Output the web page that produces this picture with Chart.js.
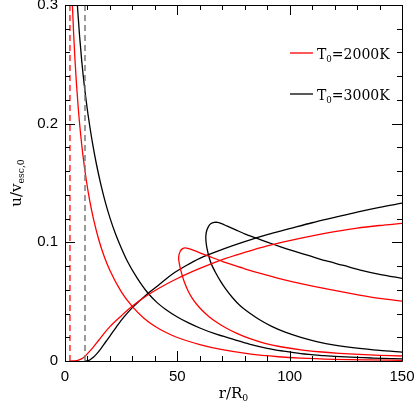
<!DOCTYPE html>
<html>
<head>
<meta charset="utf-8">
<script src="https://cdn.jsdelivr.net/npm/chart.js@4.4.0/dist/chart.umd.min.js"></script>
<style>
  html, body { margin: 0; padding: 0; background: #fff; }
  #wrap { width: 415px; height: 407px; }
</style>
</head>
<body>
<div id="wrap"><canvas id="chart" width="415" height="407"></canvas></div>
<script>
// axis ticks
const xTicks = [0, 50, 100, 150]
const yTicks = [0, 0.1, 0.2, 0.3]

// sonic points (dashed verticals)
const redDashR = [2.2, 2.2]
const redDashU = [0, 0.3]
const blackDashR = [8.9, 8.9]
const blackDashU = [0, 0.3]

// T0=2000K, accelerating branch
const redRiseR = [2.2, 4, 6, 8, 10, 12.5, 15, 17.5, 20, 25, 30, 36, 42, 50, 60, 70, 80, 90, 100, 110, 120, 130, 140, 150]
const redRiseU = [0, 0.0001, 0.0007, 0.0025, 0.0062, 0.0115, 0.0175, 0.0235, 0.029, 0.038, 0.0463, 0.0545, 0.0615, 0.0695, 0.078, 0.0855, 0.0915, 0.097, 0.1015, 0.1055, 0.109, 0.112, 0.1142, 0.116]

// T0=2000K, decelerating branch
const redFallR = [3.3, 3.8, 4.4, 5.1, 5.9, 6.8, 8, 9.5, 11, 12.8, 15, 17.5, 20, 25, 30, 35, 40, 45, 50, 60, 70, 82, 95, 105, 120, 135, 150]
const redFallU = [0.3, 0.2775, 0.2553, 0.2336, 0.213, 0.194, 0.1731, 0.1521, 0.1352, 0.1187, 0.1024, 0.0878, 0.0763, 0.0585, 0.0458, 0.0363, 0.0293, 0.024, 0.0198, 0.0138, 0.0095, 0.006, 0.0036, 0.0024, 0.0014, 0.0009, 0.0006]

// T0=2000K, looped solution
const redLoopR = [150, 140, 131, 122, 113, 105, 96, 89, 82, 76, 71.5, 67.5, 64, 61, 58.6, 56.6, 54.8, 53.2, 52, 51.1, 50.6, 50.7, 51.3, 52.2, 53.5, 55, 57, 60, 63, 66, 70, 75, 80, 87, 95, 105, 117, 131, 140, 150]
const redLoopU = [0.0042, 0.0048, 0.0056, 0.0065, 0.0078, 0.0094, 0.012, 0.0149, 0.019, 0.0237, 0.028, 0.0326, 0.0375, 0.0427, 0.0478, 0.053, 0.059, 0.0661, 0.0732, 0.08, 0.0855, 0.089, 0.0925, 0.0945, 0.0953, 0.0948, 0.0935, 0.0912, 0.089, 0.0868, 0.084, 0.0808, 0.0777, 0.0738, 0.0697, 0.0652, 0.0605, 0.0556, 0.0528, 0.0505]

// T0=3000K, accelerating branch
const blackRiseR = [8.9, 10, 11, 12.5, 14, 16, 18, 20, 23, 26, 30, 36, 42, 48, 54, 60, 70, 80, 90, 100, 110, 120, 130, 140, 150]
const blackRiseU = [0, 0.0002, 0.0008, 0.003, 0.0058, 0.0105, 0.0158, 0.021, 0.029, 0.0365, 0.045, 0.0555, 0.0645, 0.0735, 0.0805, 0.0865, 0.094, 0.1005, 0.1065, 0.1115, 0.1165, 0.121, 0.1255, 0.1295, 0.133]

// T0=3000K, decelerating branch
const blackFallR = [5.5, 6.5, 7.5, 8.5, 10, 11.1, 12.5, 14, 16, 18, 20, 22.5, 25, 28, 32, 36.8, 41, 45, 50, 55, 60, 67, 75, 82, 90, 97, 105, 115, 125, 137, 150]
const blackFallU = [0.3, 0.2737, 0.2519, 0.2338, 0.2111, 0.197, 0.1808, 0.1658, 0.1484, 0.1334, 0.1206, 0.107, 0.0955, 0.0832, 0.0703, 0.0575, 0.0492, 0.0432, 0.0371, 0.0321, 0.0278, 0.0228, 0.0182, 0.0142, 0.0107, 0.0084, 0.0062, 0.0046, 0.0034, 0.0025, 0.0018]

// T0=3000K, looped solution
const blackLoopR = [150, 140, 130, 120, 112, 105, 98, 92, 87, 82.3, 78, 74.5, 71.5, 69, 67, 65.3, 64.2, 63.3, 62.8, 62.7, 63.1, 63.9, 65, 66.4, 68, 70, 72, 76, 80, 85, 90, 96, 102, 109, 116, 124, 131, 140, 150]
const blackLoopU = [0.0075, 0.0089, 0.0108, 0.0134, 0.0164, 0.0199, 0.0243, 0.0292, 0.0343, 0.0402, 0.0465, 0.0535, 0.0607, 0.0679, 0.0746, 0.081, 0.087, 0.094, 0.1, 0.1055, 0.11, 0.1135, 0.1158, 0.1168, 0.1168, 0.1155, 0.1138, 0.1105, 0.1072, 0.1037, 0.1002, 0.0962, 0.0925, 0.0885, 0.0845, 0.0805, 0.0768, 0.073, 0.0697]

const RED = '#ff0000'
const BLACK = '#000000'
const SERIF = '"DejaVu Serif", serif'

function points(rs, us) {
  return rs.map((r, i) => ({ x: r, y: us[i] }))
}

// kind: 'mono' for curves single-valued in r, 'loop' for the looped ones, 'dash' for the verticals
function curve(rs, us, color, kind) {
  const ds = {
    data: points(rs, us),
    showLine: true,
    borderColor: color,
    borderWidth: 1.3,
    pointRadius: 0,
    fill: false
  }
  if (kind === 'dash') {
    ds.borderDash = [6, 4]
    ds.borderWidth = 1.5
  } else if (kind === 'mono') {
    ds.cubicInterpolationMode = 'monotone'
  } else {
    ds.tension = 0.25
  }
  return ds
}

// draws text pieces with subscripts, centred on x unless align is 'left'
function drawSubText(ctx, parts, x, y, size, align) {
  const widths = parts.map(p => {
    ctx.font = `${p.sub ? size * 0.62 : size}px ${SERIF}`
    return ctx.measureText(p.text).width
  })
  const total = widths.reduce((a, b) => a + b, 0)
  let cx = align === 'left' ? x : x - total / 2
  parts.forEach((p, i) => {
    ctx.font = `${p.sub ? size * 0.62 : size}px ${SERIF}`
    ctx.fillText(p.text, cx, p.sub ? y + size * 0.22 : y)
    cx += widths[i]
  })
}

const frameAndTicks = {
  id: 'frameAndTicks',
  afterDatasetsDraw(chart) {
    const { ctx, chartArea: a, scales } = chart
    const x = scales.x
    const y = scales.y
    ctx.save()
    ctx.strokeStyle = BLACK
    ctx.lineWidth = 1
    ctx.beginPath()
    ctx.rect(a.left + 0.5, a.top + 0.5, a.right - a.left, a.bottom - a.top)
    x.ticks.forEach(t => {
      const px = Math.round(x.getPixelForValue(t.value)) + 0.5
      const len = xTicks.includes(t.value) ? 10 : 5
      ctx.moveTo(px, a.bottom)
      ctx.lineTo(px, a.bottom - len)
      ctx.moveTo(px, a.top)
      ctx.lineTo(px, a.top + len)
    })
    y.ticks.forEach(t => {
      const py = Math.round(y.getPixelForValue(t.value)) + 0.5
      const major = yTicks.some(v => Math.abs(v - t.value) < 1e-6)
      const len = major ? 10 : 5
      ctx.moveTo(a.left, py)
      ctx.lineTo(a.left + len, py)
      ctx.moveTo(a.right, py)
      ctx.lineTo(a.right - len, py)
    })
    ctx.stroke()
    ctx.restore()
  },
  afterDraw(chart) {
    const { ctx, chartArea: a } = chart
    ctx.save()
    ctx.fillStyle = BLACK
    ctx.textBaseline = 'alphabetic'

    // x axis title
    drawSubText(ctx, [{ text: 'r/R' }, { text: '0', sub: true }], (a.left + a.right) / 2, 398, 15)

    // y axis title
    ctx.save()
    ctx.translate(21, (a.top + a.bottom) / 2)
    ctx.rotate(-Math.PI / 2)
    drawSubText(ctx, [{ text: 'u/v' }, { text: 'esc,0', sub: true }], 0, 0, 15)
    ctx.restore()

    // legend
    const entries = [
      { color: RED, label: '2000K', y: 53 },
      { color: BLACK, label: '3000K', y: 94 }
    ]
    entries.forEach(e => {
      ctx.strokeStyle = e.color
      ctx.lineWidth = 1.3
      ctx.beginPath()
      ctx.moveTo(290, e.y)
      ctx.lineTo(313, e.y)
      ctx.stroke()
      drawSubText(ctx, [{ text: 'T' }, { text: '0', sub: true }, { text: '=' + e.label }], 317, e.y + 5.5, 14, 'left')
    })
    ctx.restore()
  }
}

const tickFont = { family: '"Liberation Sans", Arial, sans-serif', size: 15 }

new Chart(document.getElementById('chart'), {
  type: 'scatter',
  data: {
    datasets: [
      curve(redDashR, redDashU, '#ff2a2a', 'dash'),
      curve(blackDashR, blackDashU, '#7a7a7a', 'dash'),
      curve(redRiseR, redRiseU, RED, 'mono'),
      curve(redFallR, redFallU, RED, 'mono'),
      curve(redLoopR, redLoopU, RED, 'loop'),
      curve(blackRiseR, blackRiseU, BLACK, 'mono'),
      curve(blackFallR, blackFallU, BLACK, 'mono'),
      curve(blackLoopR, blackLoopU, BLACK, 'loop')
    ]
  },
  options: {
    responsive: false,
    animation: false,
    devicePixelRatio: 1,
    layout: { padding: { left: 0, right: 13, top: 5, bottom: 0 } },
    plugins: {
      legend: { display: false },
      tooltip: { enabled: false }
    },
    scales: {
      x: {
        type: 'linear',
        min: 0,
        max: 150,
        grid: { display: false, drawTicks: false },
        border: { display: false },
        afterFit: scale => {
          scale.height = 46
          scale.paddingLeft = 0
          scale.paddingRight = 0
        },
        ticks: {
          stepSize: 10,
          autoSkip: false,
          maxRotation: 0,
          padding: 7,
          color: BLACK,
          font: tickFont,
          callback: v => (xTicks.includes(v) ? String(v) : '')
        }
      },
      y: {
        type: 'linear',
        min: 0,
        max: 0.3,
        grid: { display: false, drawTicks: false },
        border: { display: false },
        afterFit: scale => {
          scale.width = 65
          scale.paddingTop = 0
          scale.paddingBottom = 0
        },
        ticks: {
          stepSize: 0.02,
          autoSkip: false,
          padding: 7,
          color: BLACK,
          font: tickFont,
          callback: v => {
            const major = yTicks.find(t => Math.abs(t - v) < 1e-6)
            if (major === undefined) return ''
            return major === 0 ? '0' : major.toFixed(1)
          }
        }
      }
    }
  },
  plugins: [frameAndTicks]
})
</script>
</body>
</html>
